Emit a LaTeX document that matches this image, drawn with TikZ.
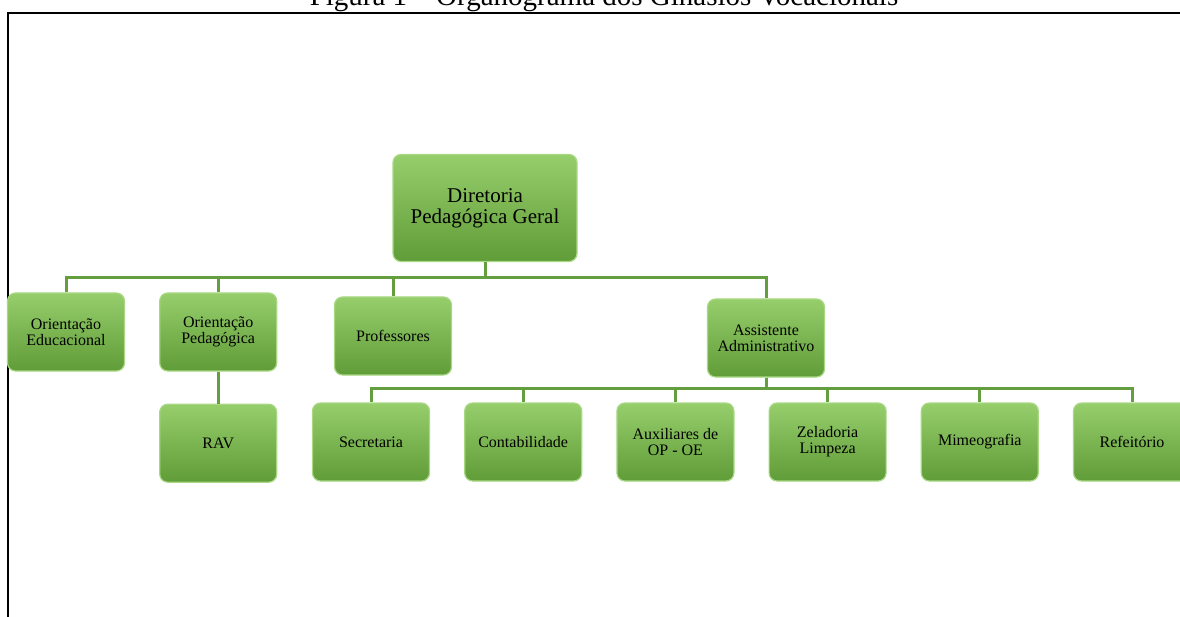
\documentclass[tikz,border=0pt]{standalone}
\usepackage{fontspec}
\setmainfont{Liberation Serif}
\usepackage{tikz}
\usetikzlibrary{positioning}
\definecolor{verde}{RGB}{108,170,66}
\definecolor{verdeclaro}{RGB}{150,206,108}
\definecolor{verdeescuro}{RGB}{96,156,56}
\definecolor{verdeborda}{RGB}{168,216,132}
\definecolor{verdelinha}{RGB}{100,158,62}
\tikzset{
    setor/.style = {rounded corners=8pt, top color=verdeclaro, middle color=verde,
                 bottom color=verdeescuro, draw=verdeborda, line width=1.2pt,
                 minimum width=117pt, minimum height=78pt, inner sep=2pt,
                 align=center, font=\fontsize{16}{16}\selectfont},
    chefe/.style = {setor, minimum width=184pt, minimum height=107pt,
                 font=\fontsize{21}{21}\selectfont},
    link/.style = {draw=verdelinha, line width=3pt},
}

\begin{document}
\begin{tikzpicture}[x=1pt,y=-1pt]
\useasboundingbox (0,0) rectangle (1180,617);
\node (titulo) [anchor=base, font=\fontsize{29}{29}\selectfont] at (604,6)
 {Figura 1 -- Organograma dos Ginásios Vocacionais};
\draw[line width=1.3pt] (8,617) -- (8,13) -- (1180,13);

\node (dir)  [chefe] at (485,208) {Diretoria\\Pedagógica Geral};
\node (oe)   [setor] at (66,332)  {Orientação\\Educacional};
\node (op)   [setor, right=34pt of oe] {Orientação\\Pedagógica};
\node (prof) [setor] at (393,336) {Professores};
\node (assist) [setor] at (766,338) {Assistente\\Administrativo};
\node (rav)  [setor, below=32pt of op] {RAV};
\node (sec)  [setor] at (371,442) {Secretaria};
\node (cont) [setor, right=34pt of sec]  {Contabilidade};
\node (aux)  [setor, right=34pt of cont] {Auxiliares de\\OP - OE};
\node (zel)  [setor, right=34pt of aux]  {Zeladoria\\Limpeza};
\node (mim)  [setor, right=34pt of zel]  {Mimeografia};
\node (ref)  [setor, right=34pt of mim]  {Refeitório};

\draw[link] (dir.south) -- ++(0,15) -| (oe.north);
\draw[link] (dir.south) -- ++(0,15) -| (op.north);
\draw[link] (dir.south) -- ++(0,15) -| (prof.north);
\draw[link] (dir.south) -- ++(0,15) -| (assist.north);
\draw[link] (op) -- (rav);
\draw[link] (assist.south) -- ++(0,11) -| (sec.north);
\draw[link] (assist.south) -- ++(0,11) -| (cont.north);
\draw[link] (assist.south) -- ++(0,11) -| (aux.north);
\draw[link] (assist.south) -- ++(0,11) -| (zel.north);
\draw[link] (assist.south) -- ++(0,11) -| (mim.north);
\draw[link] (assist.south) -- ++(0,11) -| (ref.north);
\end{tikzpicture}
\end{document}
